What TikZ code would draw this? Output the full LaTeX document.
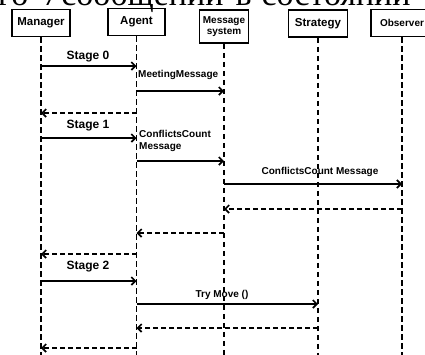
\documentclass[tikz,border=0pt]{standalone}
\usepackage{fontspec}
\setmainfont{Liberation Sans}
\newfontfamily\captionserif{Liberation Serif}
\usetikzlibrary{arrows.meta}
\begin{document}
\begin{tikzpicture}[x=1pt,y=-1pt,
  actor/.style={draw, line width=1.9pt, minimum height=27pt, inner sep=1pt,
    align=center, font=\bfseries\fontsize{11.5}{12}\selectfont},
  life/.style={line width=1.7pt, dash pattern=on 5.5pt off 3.5pt},
  msg/.style={line width=1.7pt, -{Straight Barb[length=4pt,width=8pt]}},
  ret/.style={msg, dash pattern=on 5pt off 3pt},
  lbl/.style={inner sep=0pt, font=\bfseries\fontsize{10}{12}\selectfont},
  stage/.style={inner sep=0pt, font=\bfseries\fontsize{12}{13}\selectfont},
]
\useasboundingbox (0,0) rectangle (425,354);
\clip (0,0) rectangle (425,354);

% caption line running above the chart
\node[anchor=base west, inner sep=0pt, font=\captionserif\fontsize{34}{36}\selectfont]
  (cap) at (-2,5.5) {го\hspace{14pt}7\hspace{2pt}сообщений\hspace{12pt}в\hspace{10pt}состоянии};

% participants
\node[actor, minimum width=58pt] (m)  at (41,23)    {Manager};
\node[actor, minimum width=57pt] (a)  at (136.5,22) {Agent};
\node[actor, minimum width=49pt, minimum height=33pt,
      font=\bfseries\fontsize{10}{11.5}\selectfont] (s) at (224,26.5) {Message\\system};
\node[actor, minimum width=59pt] (st) at (318,23.5) {Strategy};
\node[actor, minimum width=62pt, font=\bfseries\fontsize{10}{12}\selectfont] (o) at (402,23) {Observer};

% lifelines
\foreach \p in {m,a,s,st,o}
  \draw[life] (\p.south) -- (\p.south |- 0,356);

% stage 0
\node[stage] (l0) at (88,57) {Stage 0};
\draw[msg] (m.south |- 0,66) -- (a.south |- 0,66);
\node[lbl, anchor=west] (l1) at (138,75) {MeetingMessage};
\draw[msg] (a.south |- 0,91) -- (s.south |- 0,91);
\draw[ret] (a.south |- 0,113) -- (m.south |- 0,113);

% stage 1
\node[stage] (l2) at (88,126) {Stage 1};
\draw[msg] (m.south |- 0,138) -- (a.south |- 0,138);
\node[lbl, anchor=west, align=left] (l3) at (139,141) {ConflictsCount\\Message};
\draw[msg] (a.south |- 0,161) -- (s.south |- 0,161);
\node[lbl] (l4) at (320,172) {ConflictsCount Message};
\draw[msg] (s.south |- 0,184) -- (o.south |- 0,184);
\draw[ret] (o.south |- 0,209) -- (s.south |- 0,209);
\draw[ret] (s.south |- 0,233) -- (a.south |- 0,233);
\draw[ret] (a.south |- 0,254) -- (m.south |- 0,254);

% stage 2
\node[stage] (l5) at (88,267) {Stage 2};
\draw[msg] (m.south |- 0,281) -- (a.south |- 0,281);
\node[lbl] (l6) at (222,295) {Try Move ()};
\draw[msg] (a.south |- 0,304) -- (st.south |- 0,304);
\draw[ret] (st.south |- 0,328) -- (a.south |- 0,328);
\draw[ret] (a.south |- 0,348) -- (m.south |- 0,348);
\end{tikzpicture}
\end{document}
